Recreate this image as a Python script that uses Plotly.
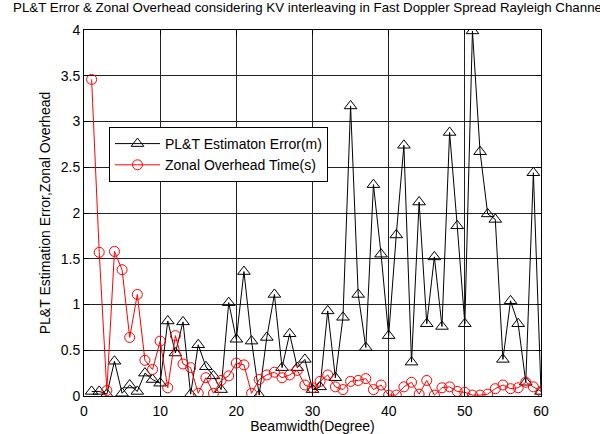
import plotly.graph_objects as go

beamwidth = list(range(1, 61))
plt_error = [0.05, 0.05, 0.02, 0.38, 0.03, 0.12, 0.05, 0.25, 0.18, 0.14,
             0.82, 0.47, 0.81, 0.02, 0.56, 0.32, 0.22, 0.07, 1.02, 0.62,
             1.36, 0.60, 0.01, 0.64, 1.11, 0.31, 0.68, 0.31, 0.40, 0.07,
             0.10, 0.93, 0.20, 0.86, 3.17, 1.11, 0.53, 2.31, 1.55, 0.66,
             1.76, 2.74, 0.37, 2.12, 0.79, 1.52, 0.76, 2.88, 1.86, 0.79,
             3.99, 2.67, 1.99, 1.93, 0.40, 1.04, 0.79, 0.15, 2.44, 0.05]
zonal_overhead = [3.46, 1.57, 0.06, 1.58, 1.38, 0.64, 1.11, 0.39, 0.29, 0.60,
                  0.09, 0.66, 0.35, 0.31, 0.03, 0.20, 0.03, 0.17, 0.22, 0.36,
                  0.34, 0.03, 0.18, 0.23, 0.26, 0.20, 0.23, 0.28, 0.12, 0.09,
                  0.16, 0.23, 0.10, 0.07, 0.16, 0.17, 0.19, 0.07, 0.12, 0.01,
                  0.01, 0.10, 0.15, 0.02, 0.17, 0.01, 0.09, 0.10, 0.05, 0.04,
                  0.01, 0.01, 0.02, 0.08, 0.12, 0.08, 0.09, 0.15, 0.10, 0.05]
x_ticks = [0, 10, 20, 30, 40, 50, 60]
y_ticks = [0, 0.5, 1, 1.5, 2, 2.5, 3, 3.5, 4]
y_ticklabels = ["0", "0.5", "1", "1.5", "2", "2.5", "3", "3.5", "4"]

title_text = "PL&T Error & Zonal Overhead considering KV interleaving in Fast Doppler Spread Rayleigh Channel"

FONT = "Liberation Sans, Arial"

fig = go.Figure()
fig.add_trace(go.Scatter(
    x=beamwidth, y=plt_error, mode="lines+markers",
    name="PL&T Estimaton Error(m)",
    line=dict(color="black", width=1),
    marker=dict(symbol="triangle-up-open", size=11, color="black", line=dict(width=1)),
))
fig.add_trace(go.Scatter(
    x=beamwidth, y=zonal_overhead, mode="lines+markers",
    name="Zonal Overhead Time(s)",
    line=dict(color="red", width=1),
    marker=dict(symbol="circle-open", size=10, color="red", line=dict(width=1)),
))

axis_common = dict(
    showline=True, linecolor="black", linewidth=1, mirror="allticks",
    ticks="inside", ticklen=5, tickcolor="black",
    showgrid=True, gridcolor="#222222", gridwidth=1,
    zeroline=False, automargin=False,
    tickfont=dict(family=FONT, size=14, color="black"),
)

fig.update_layout(
    width=600, height=434,
    margin=dict(l=84, r=59, t=30, b=38),
    paper_bgcolor="white", plot_bgcolor="white",
    font=dict(family=FONT, size=14, color="black"),
    title=dict(text=title_text, x=309 / 600, xanchor="center", xref="container",
               y=1 - 3 / 434, yanchor="top", font=dict(size=13.3, color="black")),
    xaxis=dict(range=[0, 60], tickvals=x_ticks, ticklabelstandoff=2,
               title=dict(text="Beamwidth(Degree)", standoff=6,
                          font=dict(size=14)), **axis_common),
    yaxis=dict(range=[0, 4], tickvals=y_ticks, ticktext=y_ticklabels,
               ticklabelstandoff=0,
               title=dict(text="PL&T Estimation Error,Zonal Overhead", standoff=6,
                          font=dict(size=14)), **axis_common),
    legend=dict(x=(109 - 84) / 457, y=(396 - 127) / 366, xanchor="left", yanchor="top",
                bgcolor="white", bordercolor="black", borderwidth=1,
                itemwidth=45,
                font=dict(size=14, color="black"), tracegroupgap=0),
    showlegend=True,
)

fig.write_html("out.html")
